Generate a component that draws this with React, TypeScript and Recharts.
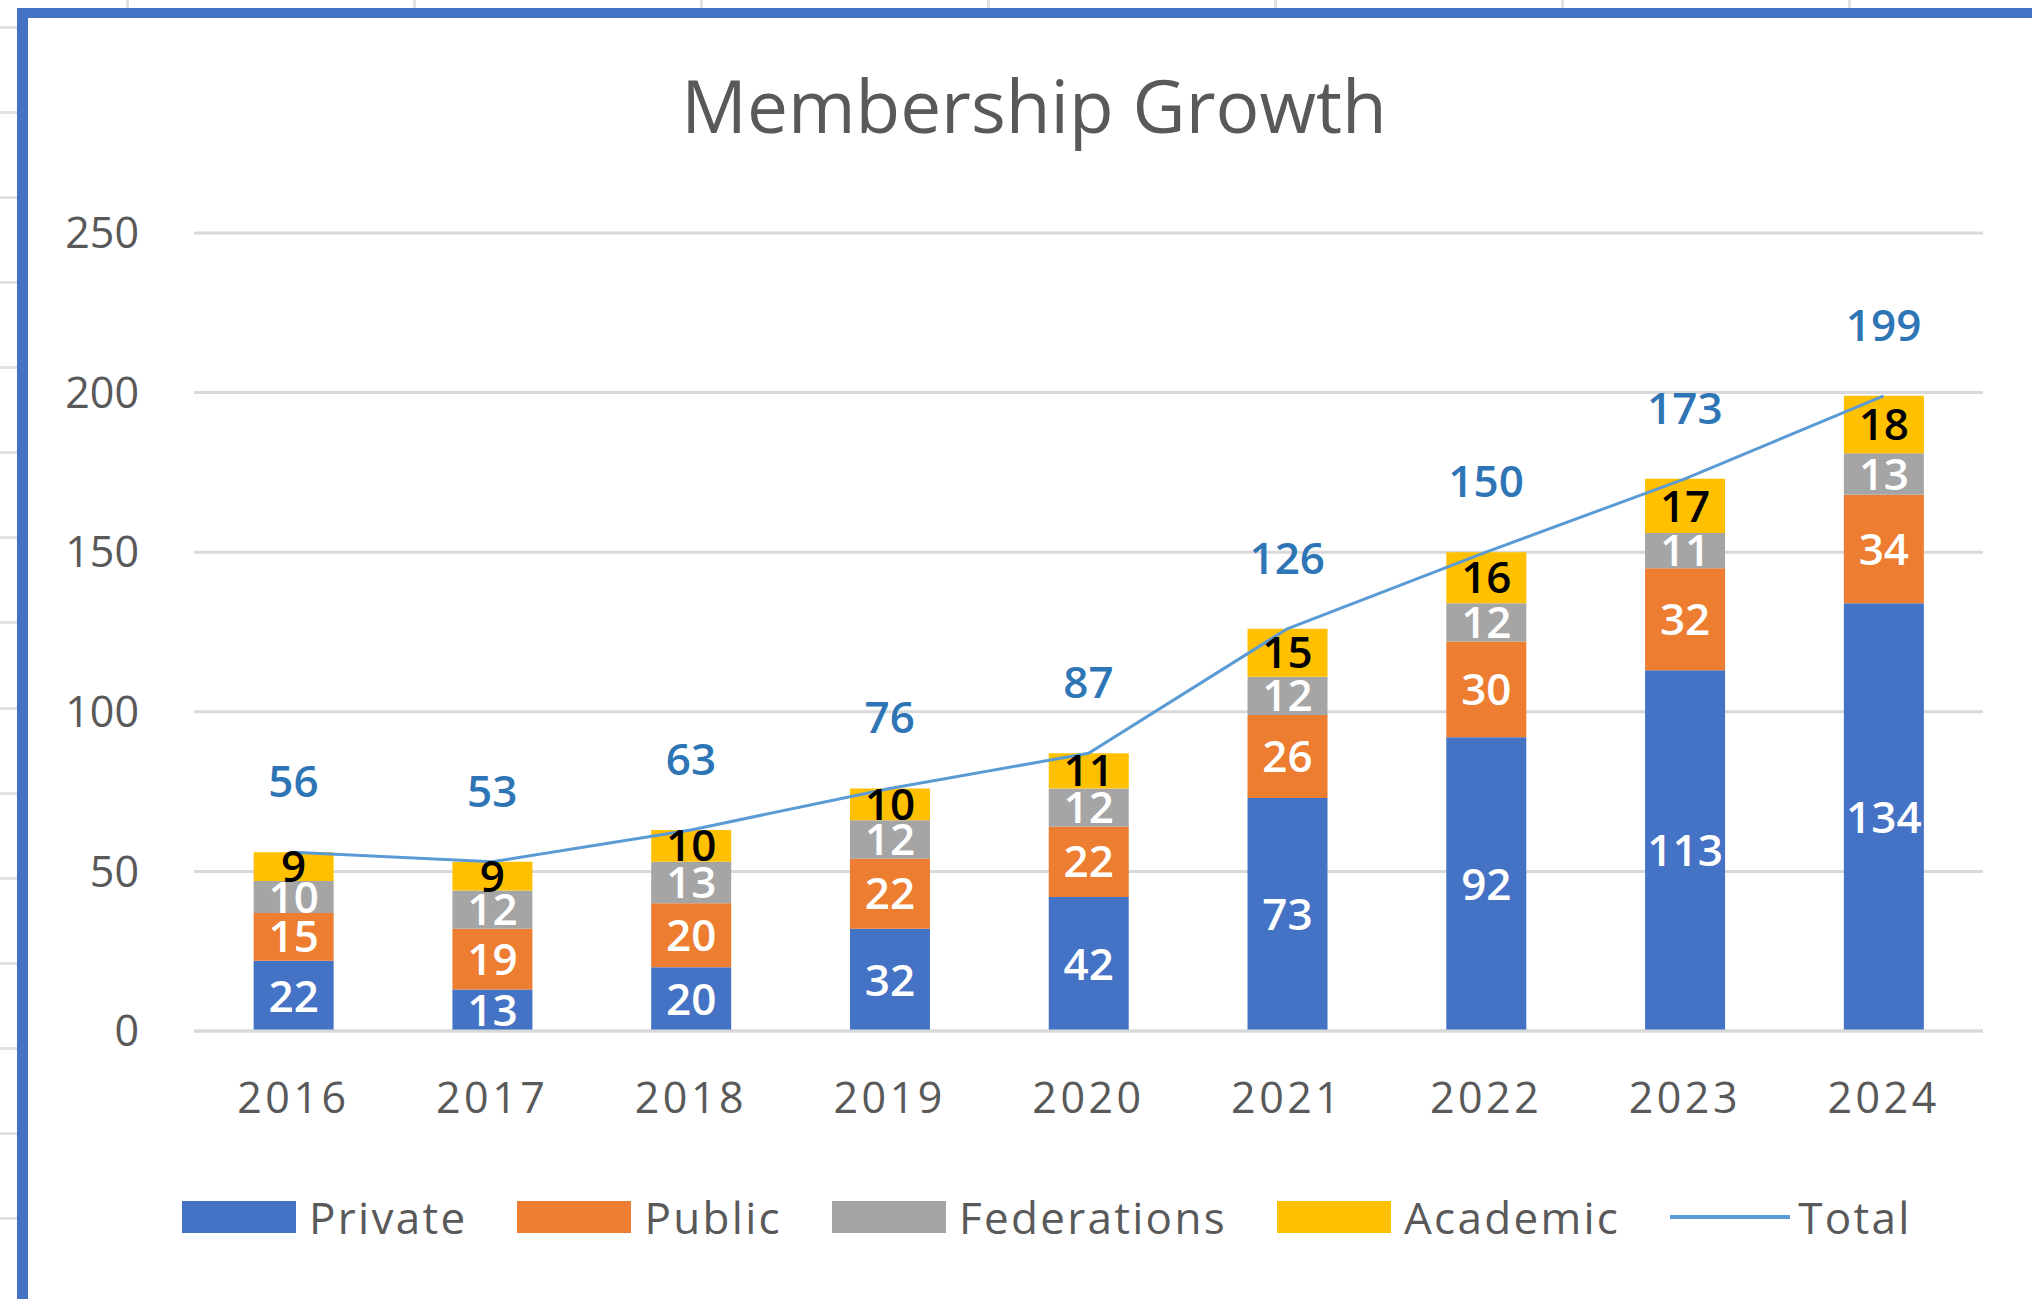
import React from 'react';
import { ComposedChart, Bar, Line, XAxis, YAxis, CartesianGrid, LabelList, Legend } from 'recharts';

const years = ['2016', '2017', '2018', '2019', '2020', '2021', '2022', '2023', '2024'];
const privateMembers = [22, 13, 20, 32, 42, 73, 92, 113, 134];
const publicMembers = [15, 19, 20, 22, 22, 26, 30, 32, 34];
const federationMembers = [10, 12, 13, 12, 12, 12, 12, 11, 13];
const academicMembers = [9, 9, 10, 10, 11, 15, 16, 17, 18];
const totalMembers = [56, 53, 63, 76, 87, 126, 150, 173, 199];
const yTicks = [0, 50, 100, 150, 200, 250];
const chartTitle = 'Membership Growth';

const barSeries = [
  { key: 'private', name: 'Private', color: '#4472C4', labelColor: '#FFFFFF', values: privateMembers },
  { key: 'public', name: 'Public', color: '#ED7D31', labelColor: '#FFFFFF', values: publicMembers },
  { key: 'federations', name: 'Federations', color: '#A5A5A5', labelColor: '#FFFFFF', values: federationMembers },
  { key: 'academic', name: 'Academic', color: '#FFC000', labelColor: '#000000', values: academicMembers },
];
const totalSeries = { key: 'total', name: 'Total', color: '#5B9BD5', labelColor: '#2E75B6', values: totalMembers };

const data = years.map((year, i) => {
  const row: Record<string, string | number> = { year };
  barSeries.forEach((s) => {
    row[s.key] = s.values[i];
  });
  row[totalSeries.key] = totalSeries.values[i];
  return row;
});

const FONT = "'Open Sans', sans-serif";
const TEXT_GRAY = '#595959';
const GRID = '#D9D9D9';

const sheetCols = [126, 413, 700, 987, 1274, 1561, 1848];
const sheetRows = [26, 111, 196, 281, 366, 451, 536, 621, 707, 792, 877, 962, 1047, 1132, 1217];

function LegendContent() {
  const items = [
    ...barSeries.map((s) => ({ name: s.name, color: s.color, type: 'rect' })),
    { name: totalSeries.name, color: totalSeries.color, type: 'line' },
  ];
  return (
    <div
      style={{
        display: 'flex',
        alignItems: 'center',
        height: 70,
        paddingLeft: 182,
        boxSizing: 'border-box',
        fontFamily: FONT,
        fontSize: 44,
        color: TEXT_GRAY,
        letterSpacing: 2.3,
        whiteSpace: 'nowrap',
      }}
    >
      {items.map((it, idx) => (
        <div key={it.name} style={{ display: 'flex', alignItems: 'center', marginRight: idx < items.length - 1 ? 50 : 0 }}>
          {it.type === 'rect' ? (
            <div style={{ width: 114, height: 32, background: it.color, marginRight: 13 }} />
          ) : (
            <div style={{ width: 120, height: 4, background: it.color, marginRight: 8 }} />
          )}
          <span style={{ lineHeight: '70px' }}>{it.name}</span>
        </div>
      ))}
    </div>
  );
}

export default function App() {
  return (
    <div
      style={{
        position: 'fixed',
        left: 0,
        top: 0,
        width: 2032,
        height: 1299,
        overflow: 'hidden',
        background: '#FFFFFF',
      }}
    >
      <svg width={2032} height={1299} style={{ position: 'absolute', left: 0, top: 0 }}>
        {sheetCols.map((x) => (
          <rect key={'c' + x} x={x} y={0} width={3} height={8} fill="#E1E1E1" />
        ))}
        {sheetRows.map((y) => (
          <rect key={'r' + y} x={0} y={y} width={17} height={3} fill="#E1E1E1" />
        ))}
      </svg>
      <div
        style={{
          position: 'absolute',
          left: 17,
          top: 8,
          width: 2100,
          height: 1400,
          borderLeft: '11px solid #4472C4',
          borderTop: '10px solid #4472C4',
          boxSizing: 'border-box',
        }}
      />
      <div style={{ position: 'absolute', left: 0, top: 0 }}>
        <ComposedChart
          width={2032}
          height={1299}
          data={data}
          margin={{ top: 233, right: 49, bottom: 47, left: 0 }}
          barCategoryGap="30%"
        >
          <CartesianGrid vertical={false} stroke={GRID} strokeWidth={3} />
          <XAxis
            dataKey="year"
            height={151}
            tickSize={0}
            tickMargin={51}
            tickLine={false}
            axisLine={{ stroke: GRID, strokeWidth: 3 }}
            tick={{ fill: TEXT_GRAY, fontSize: 43, fontFamily: FONT, letterSpacing: 3.5 }}
          />
          <YAxis
            width={194}
            domain={[0, 250]}
            ticks={yTicks}
            tickSize={0}
            tickMargin={55}
            tickLine={false}
            axisLine={false}
            tick={{ fill: TEXT_GRAY, fontSize: 43, fontFamily: FONT }}
          />
          <Legend verticalAlign="bottom" content={<LegendContent />} />
          {barSeries.map((s) => (
            <Bar key={s.key} dataKey={s.key} name={s.name} stackId="members" fill={s.color} isAnimationActive={false}>
              <LabelList
                dataKey={s.key}
                position="center"
                fill={s.labelColor}
                fontSize={44}
                fontWeight={600}
                fontFamily={FONT}
              />
            </Bar>
          ))}
          <Line
            dataKey={totalSeries.key}
            name={totalSeries.name}
            stroke={totalSeries.color}
            strokeWidth={3}
            dot={false}
            activeDot={false}
            isAnimationActive={false}
          >
            <LabelList
              dataKey={totalSeries.key}
              position="top"
              offset={55}
              fill={totalSeries.labelColor}
              fontSize={44}
              fontWeight={600}
              fontFamily={FONT}
            />
          </Line>
        </ComposedChart>
      </div>
      <svg width={2032} height={200} style={{ position: 'absolute', left: 0, top: 0, pointerEvents: 'none' }}>
        <text x={1034} y={133} textAnchor="middle" fontFamily={FONT} fontSize={73} fill={TEXT_GRAY}>
          {chartTitle}
        </text>
      </svg>
    </div>
  );
}
